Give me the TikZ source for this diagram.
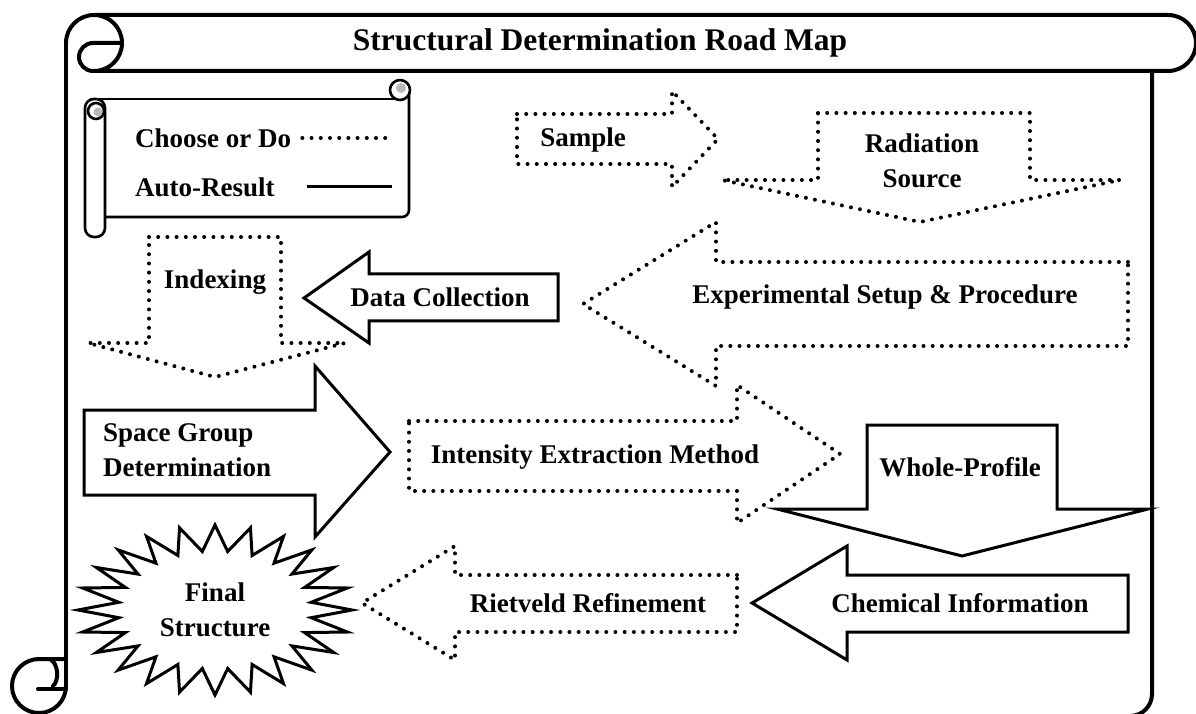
\documentclass[tikz,border=0pt]{standalone}
\usepackage{fontspec}
\setmainfont{Liberation Serif}
\begin{document}
\begin{tikzpicture}[x=1pt,y=1pt,
  frame/.style={line width=4pt, line join=round, line cap=round},
  legln/.style={line width=2.6pt, line join=round},
  dotln/.style={line width=4pt, dash pattern=on 0pt off 9.2pt, line cap=round},
  solidln/.style={line width=3pt, line join=miter},
  lbl/.style={inner sep=0pt, font=\fontsize{27}{35}\selectfont\bfseries},
  ttl/.style={inner sep=0pt, font=\fontsize{31.5}{38}\selectfont\bfseries}]
\fill[white] (0,0) rectangle (1196,713);
\useasboundingbox (0,0) rectangle (1196,713);

% scroll frame
\draw[frame] (66,670) arc[start angle=180,end angle=-90,radius=28] -- (1168,642)
  arc[start angle=-90,end angle=90,radius=28] -- (94,698);
\draw[frame] (122,670) -- (93,670) arc[start angle=90,end angle=270,radius=14];
\draw[frame] (66,670) -- (66,27);
\draw[frame, rounded corners=22] (1152,642) -- (1152,-3) -- (40,-3);
\draw[frame] (66,27) arc[start angle=0,end angle=-270,radius=27] -- (66,54);
\draw[frame] (38,24) -- (66,24);
\draw[frame] (50,54) .. controls (59,49) and (59,32) .. (53,27);
\node[ttl] (title) at (600,670) {Structural Determination Road Map};

% legend scroll
\draw[legln] (90,614) -- (398,614);
\draw[legln, rounded corners=7] (409,623) -- (409,496) -- (105,496);
\filldraw[legln, fill=white] (400,623) circle (10);
\fill[gray!55] (401,625) circle (5);
\draw[legln, rounded corners=9, fill=white] (85,614) rectangle (105,476);
\draw[legln] (96,602) circle (8);
\fill[gray!55] (98,601) circle (4.5);
\node[lbl, anchor=west] (choose) at (135,575) {Choose or Do};
\node[lbl, anchor=west] (auto) at (135,526) {Auto-Result};
\draw[dotln] ([xshift=11pt]choose.east) -- ++(87,0);
\draw[line width=3pt] ([xshift=32pt]auto.east) -- ++(85,0);

% Sample
\draw[dotln] (517,599) -- (672,599) -- (672,622) -- (718,574) -- (672,526) -- (672,549) -- (517,549) -- cycle;
\node[lbl] (sample) at (583,573) {Sample};

% Radiation Source
\draw[dotln] (818,600) -- (1030,600) -- (1030,533) -- (1120,533) -- (920,491) -- (722,533) -- (818,533) -- cycle;
\node[lbl, align=center] (rad) at (922,552) {Radiation\\Source};

% Indexing
\draw[dotln] (149,476) -- (281,476) -- (281,370) -- (345,370) -- (215,336) -- (88,370) -- (149,370) -- cycle;
\node[lbl] (idx) at (215,431) {Indexing};

% Data Collection
\draw[solidln] (558,439) -- (369,439) -- (369,461) -- (304,415) -- (369,370) -- (369,392) -- (558,392) -- cycle;
\node[lbl] (dc) at (440,416) {Data Collection};

% Experimental Setup
\draw[dotln] (1128,451) -- (716,451) -- (716,491) -- (583,409) -- (716,327) -- (716,367) -- (1128,367) -- cycle;
\node[lbl] (exp) at (885,416) {Experimental Setup \& Procedure};

% Space Group
\draw[solidln] (84,303) -- (315,303) -- (315,347) -- (390,261) -- (315,176) -- (315,218) -- (84,218) -- cycle;
\node[lbl, align=left, anchor=west] (sg) at (103,263) {Space Group\\Determination};

% Intensity Extraction
\draw[dotln] (409,292) -- (737,292) -- (737,328) -- (840,259) -- (737,190) -- (737,222) -- (409,222) -- cycle;
\node[lbl] (int) at (595,256) {Intensity Extraction Method};

% Whole-Profile
\draw[solidln] (867,288) -- (1057,288) -- (1057,204) -- (1148,204) -- (962,157) -- (777,204) -- (867,204) -- cycle;
\node[lbl] (wp) at (960,246) {Whole-Profile};

% Chemical Information
\draw[solidln] (1128,138) -- (847,138) -- (847,167) -- (752,110) -- (847,53) -- (847,81) -- (1128,81) -- cycle;
\node[lbl] (chem) at (960,110) {Chemical Information};

% Rietveld
\draw[dotln] (737,138) -- (455,138) -- (455,167) -- (362,110) -- (455,53) -- (455,81) -- (737,81) -- cycle;
\node[lbl] (riet) at (588,110) {Rietveld Refinement};

% Final Structure star
\draw[solidln, shift={(215,103)}] (137,0)
  \foreach \i [evaluate=\i as \rx using {137-40*mod(\i,2)},
               evaluate=\i as \ry using {85-26*mod(\i,2)},
               evaluate=\i as \a using {\i*7.5}] in {1,...,47} { -- ({\rx*cos(\a)},{\ry*sin(\a)}) } -- cycle;
\node[lbl, align=center] (final) at (215,103) {Final\\Structure};
\end{tikzpicture}
\end{document}
